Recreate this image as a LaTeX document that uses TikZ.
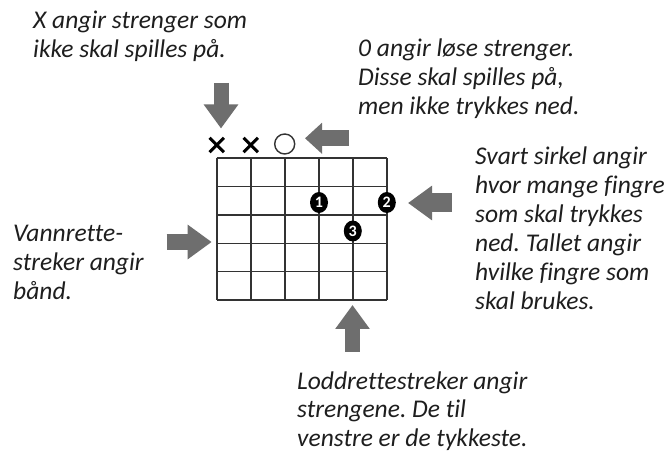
\documentclass[tikz,border=0pt]{standalone}
\usepackage{fontspec}
\setmainfont{Carlito}[Ligatures=NoCommon]
\frenchspacing
\usetikzlibrary{arrows.meta,shapes.geometric,calc}
\definecolor{txt}{HTML}{1E1E1E}
\definecolor{arrowgray}{HTML}{6E6E6E}
\definecolor{gridc}{HTML}{333333}
\tikzset{
  note/.style={anchor=base west, align=left, inner sep=0pt, text=txt,
    font=\itshape\fontsize{25.5}{29}\selectfont},
  blockarrow/.style={draw=arrowgray, line width=16pt,
    -{Triangle[length=24pt,width=33pt,fill=arrowgray]}},
  gridline/.style={draw=gridc, line width=1.6pt},
  finger/.style={ellipse, fill=black, minimum width=18pt, minimum height=21pt,
    inner sep=0pt, text=white, font=\bfseries\fontsize{16}{16}\selectfont},
  mutedmark/.style={draw=black, line width=3pt},
  openstr/.style={circle, draw=gridc, line width=1.4pt, minimum size=20pt, inner sep=0pt},
}
\begin{document}
\begin{tikzpicture}[x=1pt,y=-1pt]
\useasboundingbox (0,0) rectangle (670,454);
\fill[white] (0,0) rectangle (670,454);

% fretboard
\node[inner sep=0pt, minimum width=170pt, minimum height=141.7pt] (board) at (301.7,229.15) {};
\foreach \i in {0,...,5}{
  \draw[gridline] (216.7+34*\i,158.3) -- (216.7+34*\i,300);
  \draw[gridline] (216.7,158.3+28.34*\i) -- (386.7,158.3+28.34*\i);
}

% muted strings (X)
\node[inner sep=0pt, minimum size=14pt] (x1) at (216.7,145) {};
\node[inner sep=0pt, minimum size=14pt] (x2) at (250.7,145) {};
\foreach \n in {x1,x2}{
  \draw[mutedmark] (\n.north west) -- (\n.south east);
  \draw[mutedmark] (\n.north east) -- (\n.south west);
}
% open string
\node[openstr] (o3) at (284.7,144) {};

% fingers
\node[finger] (f1) at (319,202.5) {1};
\node[finger] (f2) at (386.8,202.5) {2};
\node[finger] (f3) at (352.8,231) {3};

% arrow end points
\coordinate (aDownS) at (221,83);
\coordinate (aDownE) at (221,128.5);
\coordinate (aOS) at (348.5,138.3);
\coordinate (aOE) at (305,138.3);
\coordinate (aLS) at (166.7,242);
\coordinate (aLE) at (211.7,242);
\coordinate (aRS) at (451.7,203);
\coordinate (aRE) at (408,203);
\coordinate (aUS) at (352.5,352);
\coordinate (aUE) at (352.5,305);

\draw[blockarrow, line width=15pt] (aDownS) -- (aDownE);
\draw[blockarrow, -{Triangle[length=17pt,width=30pt,fill=arrowgray]}] (aOS) -- (aOE);
\draw[blockarrow] (aLS) -- (aLE);
\draw[blockarrow, line width=19pt] (aRS) -- (aRE);
\draw[blockarrow, line width=15pt] (aUS) -- (aUE);

% notes (anchor = baseline of last line)
\node[note] (tX) at (33,58) {X angir strenger som\\ikke skal spilles på.};
\node[note] (tO) at (358,115) {0 angir løse strenger.\\Disse skal spilles på,\\men ikke trykkes ned.};
\node[note] (tS) at (475,310) {Svart sirkel angir\\hvor mange fingre\\som skal trykkes\\ned. Tallet angir\\hvilke fingre som\\skal brukes.};
\node[note] (tV) at (13,300) {Vannrette-\\streker angir\\bånd.};
\node[note] (tL) at (297,447) {Loddrettestreker angir\\strengene. De til\\venstre er de tykkeste.};
\end{tikzpicture}
\end{document}
